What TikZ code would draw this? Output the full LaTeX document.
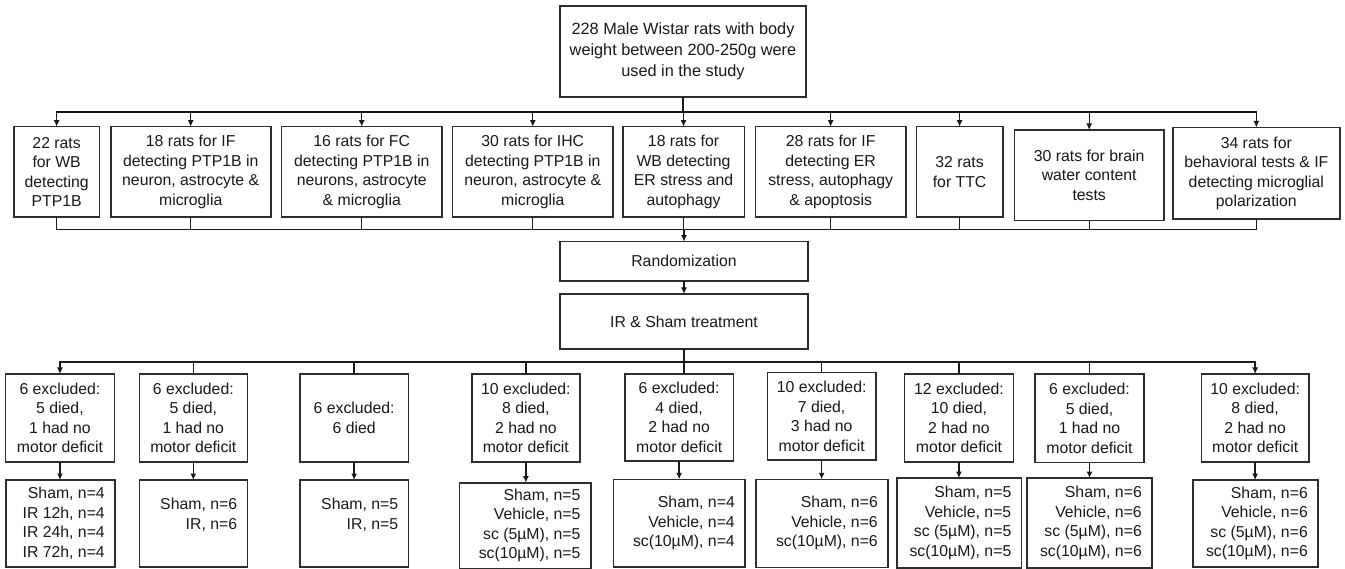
\documentclass[tikz,border=0pt]{standalone}
\usepackage{fontspec}
\setmainfont{Liberation Sans}
\usetikzlibrary{arrows.meta}
\newcommand\fs{\fontsize{15.8}{19.5}\selectfont}
\newcommand\fstop{\fontsize{16.3}{21}\selectfont}
\newcommand\mkbox[7][]{\node[box, minimum width={(#5)-(#3)}, minimum height={(#6)-(#4)}, #1] (#2) at ({((#3)+(#5))/2},{((#4)+(#6))/2}) {#7};}
\begin{document}
\begin{tikzpicture}[x=1pt,y=-1pt,
  box/.style={draw=black!82, line width=1.6pt, inner sep=0pt, outer sep=0pt, align=center, font=\fs, text=black!90},
  lbl/.style={anchor=east, xshift=-10pt, align=right, inner sep=0pt, font=\fs, text=black!90},
  conn/.style={line width=1.35pt, draw=black!90},
  arr/.style={conn, -{Latex[length=6.5pt,width=6pt]}}]
\fill[white] (0,0) rectangle (1345,569);
\useasboundingbox (0,0) rectangle (1345,569);
% top
\mkbox[font=\fstop]{top}{560}{6}{806}{97}{228 Male Wistar rats with body\\weight between 200-250g were\\used in the study}
% row 1
\mkbox{r1}{14}{126.7}{99.3}{217.3}{22 rats\\for WB\\detecting\\PTP1B}
\mkbox{r2}{110.7}{126.7}{270.7}{217.3}{18 rats for IF\\detecting PTP1B in\\neuron, astrocyte \&\\microglia}
\mkbox{r3}{281.5}{126.7}{442}{217.3}{16 rats for FC\\detecting PTP1B in\\neurons, astrocyte\\\& microglia}
\mkbox{r4}{452.6}{126.7}{613}{217.3}{30 rats for IHC\\detecting PTP1B in\\neuron, astrocyte \&\\microglia}
\mkbox{r5}{622.7}{126.7}{744.4}{217.3}{18 rats for\\WB detecting\\ER stress and\\autophagy}
\mkbox{r6}{755.5}{126.7}{905.8}{217.3}{28 rats for IF\\detecting ER\\stress, autophagy\\\& apoptosis}
\mkbox{r7}{916.4}{126.7}{1002.8}{217.3}{32 rats\\for TTC}
\mkbox{r8}{1014.4}{130}{1164}{220.7}{30 rats for brain\\water content\\tests}
\mkbox{r9}{1172.7}{127.5}{1340}{219}{34 rats for\\behavioral tests \& IF\\detecting microglial\\polarization}
% middle
\mkbox{rand}{560}{241.7}{808}{281}{Randomization}
\mkbox{ir}{560}{294}{808}{349}{IR \& Sham treatment}
% row 3
\mkbox{s1}{5.4}{374}{114.5}{461.7}{6 excluded:\\5 died,\\1 had no\\motor deficit}
\mkbox{s2}{139.3}{374}{247.3}{461.7}{6 excluded:\\5 died,\\1 had no\\motor deficit}
\mkbox{s3}{300}{374}{408.3}{461.7}{6 excluded:\\6 died}
\mkbox{s4}{471.7}{374}{580}{461.7}{10 excluded:\\8 died,\\2 had no\\motor deficit}
\mkbox{s5}{625}{374}{733.3}{461}{6 excluded:\\4 died,\\2 had no\\motor deficit}
\mkbox{s6}{767.3}{372.7}{876}{460}{10 excluded:\\7 died,\\3 had no\\motor deficit}
\mkbox{s7}{904.4}{374}{1013.5}{461.7}{12 excluded:\\10 died,\\2 had no\\motor deficit}
\mkbox{s8}{1034.8}{374}{1144.2}{462.5}{6 excluded:\\5 died,\\1 had no\\motor deficit}
\mkbox{s9}{1201.3}{374}{1309}{461.7}{10 excluded:\\8 died,\\2 had no\\motor deficit}
% row 4
\mkbox[label={[lbl]east:{Sham, n=4\\IR 12h, n=4\\IR 24h, n=4\\IR 72h, n=4}}]{b1}{5.7}{480}{115}{567}{}
\mkbox[label={[lbl]east:{Sham, n=6\\IR, n=6\\\mbox{}}}]{b2}{139.3}{480}{247.3}{567}{}
\mkbox[label={[lbl]east:{Sham, n=5\\IR, n=5\\\mbox{}}}]{b3}{300}{480}{408.3}{567}{}
\mkbox[label={[lbl]east:{Sham, n=5\\Vehicle, n=5\\sc (5µM), n=5\\sc(10µM), n=5}}]{b4}{459.3}{482.7}{590.7}{568.3}{}
\mkbox[label={[lbl]east:{Sham, n=4\\Vehicle, n=4\\sc(10µM), n=4}}]{b5}{613.3}{479.3}{745}{567}{}
\mkbox[label={[lbl]east:{Sham, n=6\\Vehicle, n=6\\sc(10µM), n=6}}]{b6}{756}{479.3}{888}{567.3}{}
\mkbox[label={[lbl]east:{Sham, n=5\\Vehicle, n=5\\sc (5µM), n=5\\sc(10µM), n=5}}]{b7}{897}{478}{1021.5}{568}{}
\mkbox[label={[lbl]east:{Sham, n=6\\Vehicle, n=6\\sc (5µM), n=6\\sc(10µM), n=6}}]{b8}{1027}{478}{1152}{568}{}
\mkbox[label={[lbl]east:{Sham, n=6\\Vehicle, n=6\\sc (5µM), n=6\\sc(10µM), n=6}}]{b9}{1193}{480}{1318}{566.7}{}
% connectors: top bus
\coordinate (busT) at (683,112);
\draw[conn] (top.south) -- (busT);
\draw[arr] (busT) -| (r1.north);
\draw[arr] (busT) -| (r9.north);
\foreach \i in {2,...,8} {\draw[arr] (r\i.north |- busT) -- (r\i.north);}
% bottom bus of row 1
\coordinate (busB) at (683,229.3);
\draw[conn] (r1.south) |- (r9.south |- busB) -- (r9.south);
\foreach \i in {2,...,8} {\draw[conn] (r\i.south) -- (r\i.south |- busB);}
\draw[arr] (rand.north |- busB) -- (rand.north);
\draw[arr] (rand.south) -- (ir.north);
% row 3 bus
\coordinate (busC) at (684,362);
\draw[conn] (ir.south) -- (ir.south |- s5.north);
\draw[arr] (busC) -| (s1.north);
\draw[arr] (busC) -| (s9.north);
\foreach \i in {2,3,4,6,7,8} {\draw[conn] (s\i.north |- busC) -- (s\i.north);}
% row 3 to row 4
\foreach \i in {1,...,9} {\draw[arr] (s\i.south) -- (s\i.south |- b\i.north);}
\end{tikzpicture}
\end{document}
